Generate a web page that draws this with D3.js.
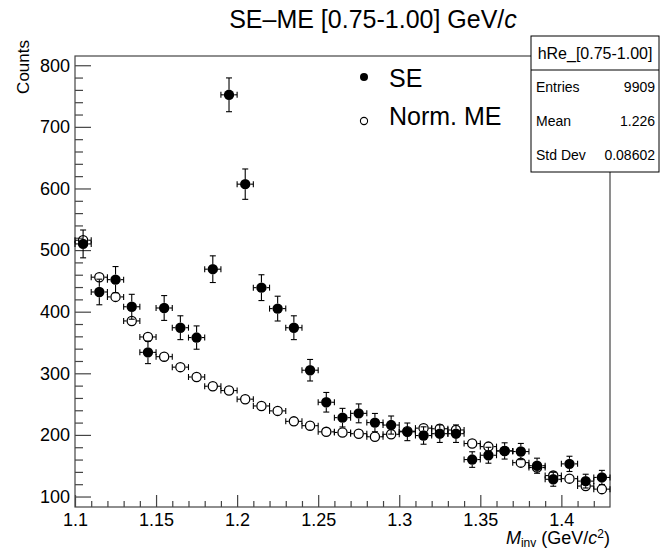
<!DOCTYPE html>
<html>
<head>
<meta charset="utf-8">
<script src="https://cdn.jsdelivr.net/npm/d3@7"></script>
<style>
  body { margin: 0; background: #fff; }
  svg { display: block; }
  text { font-family: "Liberation Sans", Arial, Helvetica, sans-serif; fill: #000; }
</style>
</head>
<body>
<script>
// Invariant-mass bins (centres, GeV/c^2), width 0.01
const binCenters = [1.105, 1.115, 1.125, 1.135, 1.145, 1.155, 1.165, 1.175, 1.185, 1.195,
                    1.205, 1.215, 1.225, 1.235, 1.245, 1.255, 1.265, 1.275, 1.285, 1.295,
                    1.305, 1.315, 1.325, 1.335, 1.345, 1.355, 1.365, 1.375, 1.385, 1.395,
                    1.405, 1.415, 1.425];
const binWidth = 0.01;

// Same-event counts
const seCounts = [510, 432, 452, 408, 334, 406, 374, 358, 469, 752,
                  607, 439, 405, 374, 305, 253, 228, 235, 220, 216,
                  205, 199, 202, 202, 160, 167, 174, 173, 150, 128,
                  153, 125, 131];

// Normalised mixed-event counts
const meNorm = [516, 456, 424, 385, 359, 327, 310, 294, 279, 272,
                258, 247, 239, 222, 215, 205, 204, 202, 197, 201,
                206, 211, 210, 208, 186, 181, 174, 155, 147, 134,
                129, 117, 112];

const xTickValues = [1.10, 1.15, 1.20, 1.25, 1.30, 1.35, 1.40];
const xTickLabels = ["1.1", "1.15", "1.2", "1.25", "1.3", "1.35", "1.4"];
const yTickValues = [100, 200, 300, 400, 500, 600, 700, 800];
const yTickLabels = ["100", "200", "300", "400", "500", "600", "700", "800"];

const legendLabels = ["SE", "Norm. ME"];
const statsTitle = "hRe_[0.75-1.00]";
const statsNames = ["Entries", "Mean", "Std Dev"];
const statsValues = ["9909", "1.226", "0.08602"];

const W = 667, H = 552;
const frame = { left: 75, right: 610, top: 56, bottom: 507 };
const frameColor = "#444";

const svg = d3.select("body").append("svg").attr("width", W).attr("height", H);
svg.append("rect").attr("width", W).attr("height", H).attr("fill", "#fff");

const x = d3.scaleLinear().domain([1.10, 1.43]).range([frame.left, frame.right]);
const y = d3.scaleLinear().domain([83, 815]).range([frame.bottom, frame.top]);

// Frame
svg.append("rect")
  .attr("x", frame.left).attr("y", frame.top)
  .attr("width", frame.right - frame.left).attr("height", frame.bottom - frame.top)
  .attr("fill", "none").attr("stroke", frameColor).attr("stroke-width", 1.2);

// X axis: minor ticks every 0.01, major every 0.05, drawn inward
const xMinor = d3.range(0, 33).map(i => +(1.10 + i * 0.01).toFixed(2))
  .filter(v => !xTickValues.some(t => Math.abs(t - v) < 1e-9));
const gxMinor = svg.append("g").attr("transform", `translate(0,${frame.bottom})`)
  .call(d3.axisBottom(x).tickValues(xMinor).tickFormat("").tickSizeInner(-6).tickSizeOuter(0));
gxMinor.select(".domain").remove();

const gx = svg.append("g").attr("transform", `translate(0,${frame.bottom})`)
  .call(d3.axisBottom(x).tickValues(xTickValues)
    .tickFormat((d, i) => xTickLabels[i]).tickSizeInner(-12).tickSizeOuter(0).tickPadding(6));
gx.select(".domain").remove();
gx.selectAll("text").attr("font-size", 18).attr("fill", "#000");

// Y axis: minor ticks every 20, major every 100
const yMinor = d3.range(100, 815, 20).filter(v => v % 100 !== 0);
const gyMinor = svg.append("g").attr("transform", `translate(${frame.left},0)`)
  .call(d3.axisLeft(y).tickValues(yMinor).tickFormat("").tickSizeInner(-8).tickSizeOuter(0));
gyMinor.select(".domain").remove();

const gy = svg.append("g").attr("transform", `translate(${frame.left},0)`)
  .call(d3.axisLeft(y).tickValues(yTickValues)
    .tickFormat((d, i) => yTickLabels[i]).tickSizeInner(-16).tickSizeOuter(0).tickPadding(5));
gy.select(".domain").remove();
gy.selectAll("text").attr("font-size", 18).attr("fill", "#000");

svg.selectAll(".tick line").attr("stroke", frameColor).attr("stroke-width", 1.2);

// Axis titles
const xTitle = svg.append("text")
  .attr("x", frame.right).attr("y", 544)
  .attr("text-anchor", "end").attr("font-size", 18);
xTitle.append("tspan").attr("font-style", "italic").text("M");
xTitle.append("tspan").attr("font-size", 12).attr("dy", 3).text("inv");
xTitle.append("tspan").attr("dy", -3).text(" (GeV/");
xTitle.append("tspan").attr("font-style", "italic").text("c");
xTitle.append("tspan").attr("font-size", 12).attr("dy", -6).text("2");
xTitle.append("tspan").attr("dy", 6).text(")");

svg.append("text")
  .attr("transform", `translate(29,40) rotate(-90)`)
  .attr("text-anchor", "end").attr("font-size", 17)
  .text("Counts");

// Title
const title = svg.append("text")
  .attr("x", 373).attr("y", 28).attr("text-anchor", "middle").attr("font-size", 25);
title.append("tspan").text("SE\u2013ME [0.75-1.00] GeV/");
title.append("tspan").attr("font-style", "italic").text("c");

// Data points with error bars
const r = 5.2, cap = 3;
const plot = svg.append("g");

function drawSeries(values, filled, withYErr) {
  const g = plot.append("g");
  values.forEach((v, i) => {
    const cx = x(binCenters[i]), cy = y(v);
    const xl = x(binCenters[i] - binWidth / 2), xr = x(binCenters[i] + binWidth / 2);
    const segs = [
      [xl, cy, cx - r, cy], [cx + r, cy, xr, cy],
      [xl, cy - cap, xl, cy + cap], [xr, cy - cap, xr, cy + cap]
    ];
    if (withYErr) {
      const e = Math.sqrt(v);
      const yt = y(v + e), yb = y(v - e);
      segs.push([cx, yt, cx, cy - r], [cx, cy + r, cx, yb],
                [cx - cap, yt, cx + cap, yt], [cx - cap, yb, cx + cap, yb]);
    }
    segs.forEach(s => g.append("line")
      .attr("x1", s[0]).attr("y1", s[1]).attr("x2", s[2]).attr("y2", s[3])
      .attr("stroke", "#000").attr("stroke-width", 1.1));
    g.append("circle").attr("cx", cx).attr("cy", cy).attr("r", filled ? r : r - 0.6)
      .attr("fill", filled ? "#000" : "none")
      .attr("stroke", "#000").attr("stroke-width", filled ? 0 : 1.3);
  });
}
drawSeries(seCounts, true, true);
drawSeries(meNorm, false, false);

// Legend
const legend = svg.append("g");
[[true, 77, 87], [false, 121, 125]].forEach((d, i) => {
  legend.append("circle").attr("cx", 364).attr("cy", d[1]).attr("r", d[0] ? 4 : 3.6)
    .attr("fill", d[0] ? "#000" : "none").attr("stroke", "#000").attr("stroke-width", d[0] ? 0 : 1.1);
  legend.append("text").attr("x", 389).attr("y", d[2]).attr("font-size", 25).text(legendLabels[i]);
});

// Statistics box
const sb = { x0: 531, x1: 659, y0: 36, y1: 172 };
const rowH = (sb.y1 - sb.y0) / 4;
const stats = svg.append("g");
stats.append("rect").attr("x", sb.x0).attr("y", sb.y0)
  .attr("width", sb.x1 - sb.x0).attr("height", sb.y1 - sb.y0)
  .attr("fill", "#fff").attr("stroke", "#000").attr("stroke-width", 1);
stats.append("line").attr("x1", sb.x0).attr("x2", sb.x1)
  .attr("y1", sb.y0 + rowH).attr("y2", sb.y0 + rowH).attr("stroke", "#000");
stats.append("text").attr("x", (sb.x0 + sb.x1) / 2).attr("y", sb.y0 + rowH / 2 + 6)
  .attr("text-anchor", "middle").attr("font-size", 16).text(statsTitle);
statsNames.forEach((n, i) => {
  const yy = sb.y0 + rowH * (i + 1.5) + 5;
  stats.append("text").attr("x", sb.x0 + 5).attr("y", yy).attr("font-size", 14).text(n);
  stats.append("text").attr("x", sb.x1 - 4).attr("y", yy).attr("text-anchor", "end")
    .attr("font-size", 14).text(statsValues[i]);
});
</script>
</body>
</html>
